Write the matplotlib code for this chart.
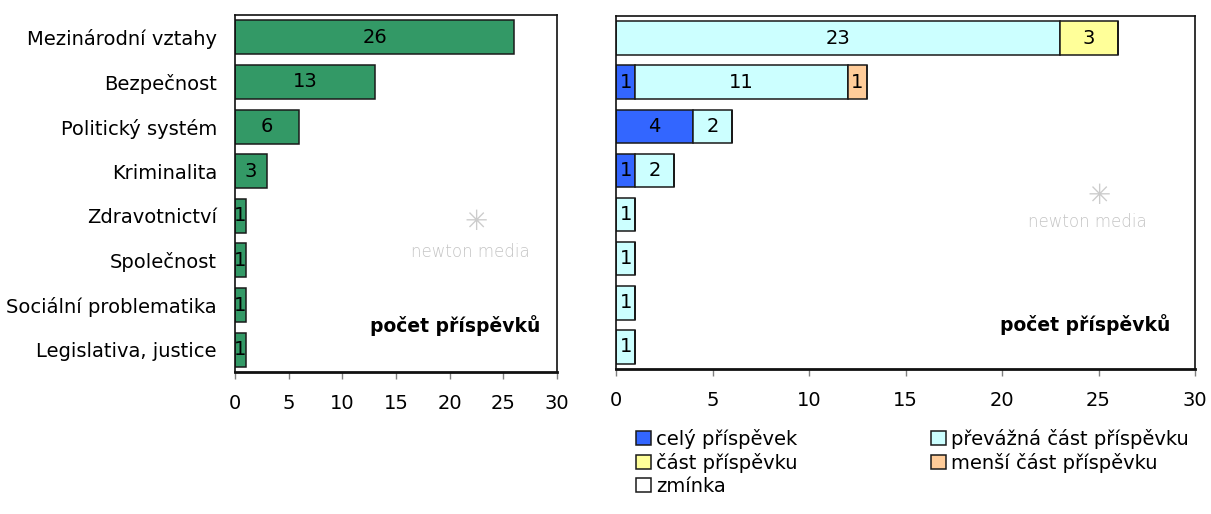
import matplotlib
matplotlib.use("Agg")
import matplotlib.pyplot as plt
from matplotlib.patches import Patch

plt.rcParams['font.family'] = ['DejaVu Sans']

categories = ['Mezinárodní vztahy', 'Bezpečnost', 'Politický systém', 'Kriminalita',
              'Zdravotnictví', 'Společnost', 'Sociální problematika', 'Legislativa, justice']
totals = [26, 13, 6, 3, 1, 1, 1, 1]

series_names = ['celý příspěvek', 'převážná část příspěvku', 'část příspěvku',
                'menší část příspěvku', 'zmínka']
cely = [0, 1, 4, 1, 0, 0, 0, 0]
prevazna = [23, 11, 2, 2, 1, 1, 1, 1]
cast = [3, 0, 0, 0, 0, 0, 0, 0]
mensi = [0, 1, 0, 0, 0, 0, 0, 0]
zminka = [0, 0, 0, 0, 0, 0, 0, 0]
series = [cely, prevazna, cast, mensi, zminka]
colors = ['#3366ff', '#ccffff', '#ffff99', '#ffcc99', '#ffffff']

ticks = [0, 5, 10, 15, 20, 25, 30]
fs = 14
bh = 0.76
edge = '#1a1a1a'

W, H = 1211, 514
fig = plt.figure(figsize=(W / 100, H / 100), dpi=100)
ax1 = fig.add_axes([235 / W, 1 - 372 / H, 322 / W, 357 / H])
ax2 = fig.add_axes([616 / W, 1 - 369 / H, 579 / W, 353 / H])

y = list(range(len(categories)))


def style(ax, label_xy, mark_xy, logo_xy):
    ax.set_xlim(0, 30)
    ax.set_ylim(7.5, -0.5)
    ax.set_xticks(ticks)
    ax.set_xticklabels([str(t) for t in ticks], fontsize=14)
    ax.tick_params(axis='x', direction='out', length=5, width=1, color='#808080', pad=11)
    for s in ax.spines.values():
        s.set_linewidth(1.2)
        s.set_color('#111111')
    ax.spines['bottom'].set_linewidth(2)
    ax.text(label_xy[0], label_xy[1], 'počet příspěvků', transform=ax.transAxes,
            ha='right', va='center', fontsize=13.5, fontweight='bold')
    ax.text(mark_xy[0], mark_xy[1], 'newton media', transform=ax.transAxes, ha='center',
            va='center', fontsize=12, color='#c4c4c4', fontweight='light')
    ax.text(logo_xy[0], logo_xy[1], '✳', transform=ax.transAxes, ha='center',
            va='center', fontsize=20, color='#cccccc')


# left chart
ax1.barh(y, totals, height=bh, color='#339966', edgecolor=edge, linewidth=1.1)
for yi, v in zip(y, totals):
    ax1.text(v / 2, yi, str(v), ha='center', va='center', fontsize=fs)
ax1.set_yticks(y)
ax1.set_yticklabels(categories, fontsize=fs)
ax1.tick_params(axis='y', length=0, pad=13)
style(ax1, (0.947, 0.13), (0.73, 0.336), (0.75, 0.42))

# right chart
left = [0] * len(categories)
for vals, c in zip(series, colors):
    ax2.barh(y, vals, left=left, height=bh, color=c, edgecolor=edge, linewidth=1.1)
    for yi, v, l in zip(y, vals, left):
        if v > 0:
            ax2.text(l + v / 2, yi, str(v), ha='center', va='center', fontsize=fs)
    left = [a + b for a, b in zip(left, vals)]
ax2.set_yticks([])
style(ax2, (0.957, 0.125), (0.814, 0.416), (0.835, 0.49))

handles = [Patch(facecolor=c, edgecolor=edge, linewidth=1.1) for c in colors]
order = [0, 2, 4, 1, 3]
ax2.legend([handles[i] for i in order], [series_names[i] for i in order],
           loc='upper left', bbox_to_anchor=(0.035, -0.17), ncol=2, frameon=False,
           fontsize=fs, handlelength=0.75, handleheight=0.75, handletextpad=0.25,
           labelspacing=0.2, columnspacing=6.9, borderaxespad=0, borderpad=0)

fig.savefig('out.png', dpi=100)
